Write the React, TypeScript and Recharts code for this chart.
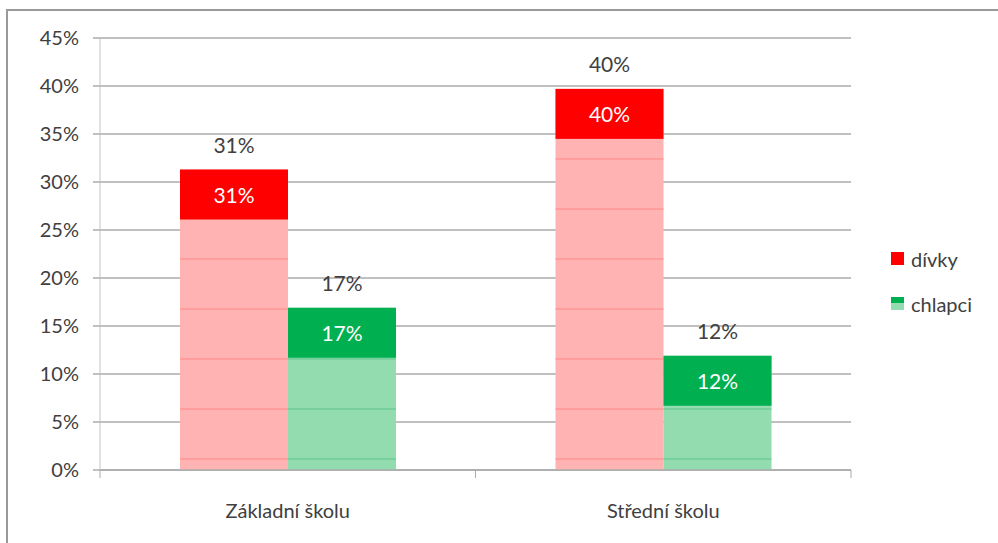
import { BarChart, Bar, XAxis, YAxis, CartesianGrid, LabelList } from 'recharts'

const categories = ['Základní školu', 'Střední školu']
const divky = [31.3, 39.7]
const chlapci = [16.9, 11.9]
const yTicks = [0, 5, 10, 15, 20, 25, 30, 35, 40, 45]

const WIDTH = 998
const HEIGHT = 543
const MARGIN = { top: 38, right: 147, bottom: 13, left: 0 }
const Y_AXIS_WIDTH = 100
const X_AXIS_HEIGHT = 60
const PLOT_LEFT = MARGIN.left + Y_AXIS_WIDTH
const PLOT_RIGHT = WIDTH - MARGIN.right
const PLOT_BOTTOM = HEIGHT - MARGIN.bottom - X_AXIS_HEIGHT
const BAND = (PLOT_RIGHT - PLOT_LEFT) / categories.length

const FONT = 'Lato, "Open Sans", sans-serif'
const TEXT = '#404040'
const GRID = '#ababab'

const data = categories.map((name, i) => ({ name, divky: divky[i], chlapci: chlapci[i] }))

const CAP = 50

// excel "glass" look: saturated cap on top, pale body with faint stripes
const makeShape = (dark: string, light: string, stripe: string) => (props: any) => {
  const { x, y, width, height } = props
  if (!height || height <= 0) return null
  const cap = Math.min(CAP, height)
  const bottom = y + height
  const stripes: number[] = []
  for (let ly = bottom - 11; ly > y + cap; ly -= 50) stripes.push(ly)
  return (
    <g>
      <rect x={x} y={y} width={width} height={height} fill={light} />
      {stripes.map((ly) => (
        <line key={ly} x1={x} x2={x + width} y1={ly} y2={ly} stroke={stripe} strokeWidth={1} />
      ))}
      <rect x={x} y={y} width={width} height={cap} fill={dark} />
    </g>
  )
}

const outerLabel = (p: any) => (
  <text
    x={p.x + p.width / 2}
    y={p.y - 25}
    textAnchor="middle"
    dominantBaseline="central"
    fontSize={21}
    fontFamily={FONT}
    fill={TEXT}
  >
    {Math.round(p.value)}%
  </text>
)

const innerLabel = (p: any) => (
  <text
    x={p.x + p.width / 2}
    y={p.y + 25}
    textAnchor="middle"
    dominantBaseline="central"
    fontSize={21}
    fontFamily={FONT}
    fill="#ffffff"
  >
    {Math.round(p.value)}%
  </text>
)

const CategoryTick = (props: any) => {
  const { payload } = props
  const cx = payload.coordinate
  return (
    <g>
      <line x1={cx - BAND / 2} x2={cx - BAND / 2} y1={PLOT_BOTTOM} y2={PLOT_BOTTOM + 8} stroke={GRID} />
      <line x1={cx + BAND / 2} x2={cx + BAND / 2} y1={PLOT_BOTTOM} y2={PLOT_BOTTOM + 8} stroke={GRID} />
      <text
        x={cx}
        y={PLOT_BOTTOM + 40}
        textAnchor="middle"
        dominantBaseline="central"
        fontSize={20}
        fontFamily={FONT}
        fill={TEXT}
      >
        {payload.value}
      </text>
    </g>
  )
}

const legendItems = [
  { name: 'dívky', dark: '#ff0000', light: '#ff0000' },
  { name: 'chlapci', dark: '#00b050', light: '#92dcb0' },
]

export default function App() {
  return (
    <div style={{ position: 'absolute', left: 0, top: 0, width: WIDTH, height: HEIGHT, background: '#fff', overflow: 'hidden' }}>
      <div
        style={{
          position: 'absolute',
          left: 6,
          top: 9,
          width: 1100,
          height: 700,
          borderTop: '2px solid #9a9a9a',
          borderLeft: '2px solid #9a9a9a',
        }}
      />
      <BarChart
        width={WIDTH}
        height={HEIGHT}
        data={data}
        margin={MARGIN}
        barGap={0}
        barSize={108}
        style={{ position: 'absolute', left: 0, top: 0 }}
      >
        <CartesianGrid vertical={false} stroke={GRID} strokeWidth={1.5} />
        <XAxis
          dataKey="name"
          height={X_AXIS_HEIGHT}
          axisLine={{ stroke: GRID, strokeWidth: 1.5 }}
          tickLine={false}
          tick={<CategoryTick />}
          interval={0}
        />
        <YAxis
          width={Y_AXIS_WIDTH}
          domain={[0, 45]}
          ticks={yTicks}
          interval={0}
          tickFormatter={(v: number) => `${v}%`}
          axisLine={{ stroke: '#c4c4c4' }}
          tickLine={{ stroke: GRID, strokeWidth: 1.5 }}
          tickSize={7}
          tickMargin={14}
          tick={{ fontSize: 20, fontFamily: FONT, fill: TEXT }}
        />
        <Bar dataKey="divky" name="dívky" isAnimationActive={false} shape={makeShape('#ff0000', '#ffb3b3', '#ff8585')}>
          <LabelList dataKey="divky" content={outerLabel} />
          <LabelList dataKey="divky" content={innerLabel} />
        </Bar>
        <Bar dataKey="chlapci" name="chlapci" isAnimationActive={false} shape={makeShape('#00b050', '#92dcb0', '#5cc48c')}>
          <LabelList dataKey="chlapci" content={outerLabel} />
          <LabelList dataKey="chlapci" content={innerLabel} />
        </Bar>
      </BarChart>
      <div style={{ position: 'absolute', left: 891, top: 236, fontFamily: FONT, fontSize: 20, color: TEXT }}>
        {legendItems.map((item) => (
          <div key={item.name} style={{ display: 'flex', alignItems: 'center', height: 45 }}>
            <div style={{ width: 13, height: 13, marginRight: 7, display: 'flex', flexDirection: 'column' }}>
              <div style={{ height: 6, background: item.dark }} />
              <div style={{ height: 7, background: item.light }} />
            </div>
            <span>{item.name}</span>
          </div>
        ))}
      </div>
    </div>
  )
}
